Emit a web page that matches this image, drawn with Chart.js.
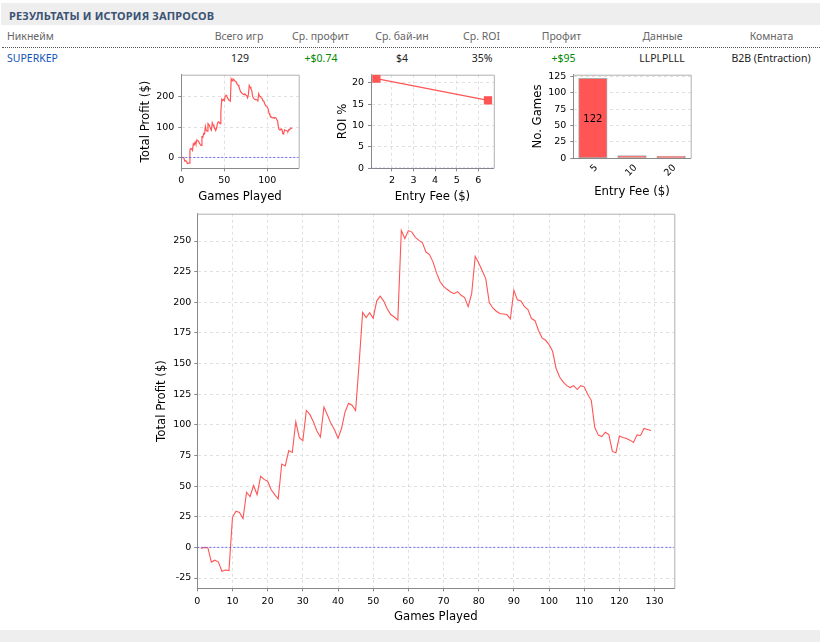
<!DOCTYPE html>
<html>
<head>
<meta charset="utf-8">
<script src="https://cdn.jsdelivr.net/npm/chart.js@4/dist/chart.umd.js"></script>
<style>
    html, body { margin: 0; padding: 0; background: #fff; }
    #page { position: relative; width: 820px; height: 642px; overflow: hidden; font-family: "Noto Sans", sans-serif; font-size: 10.5px; color: #222; }
    #title { position: absolute; left: 1px; top: 3px; width: 819px; height: 22px; background: #eee; }
    #title span { position: absolute; left: 8px; top: 5px; font-weight: bold; font-size: 11px; letter-spacing: 0.16px; color: #3b5374; white-space: nowrap; }
    #footer { position: absolute; left: 0; top: 630px; width: 820px; height: 12px; background: #eee; }
    #rule { position: absolute; left: 2px; top: 47px; width: 818px; border-top: 1px dotted #555; }
    .cell { position: absolute; white-space: nowrap; transform: translateX(-50%); }
    .head { top: 29px; color: #666; }
    .row { top: 51px; }
    .left { transform: none; }
    .green { color: #080; }
    .link { color: #1155bb; }
    canvas { position: absolute; }
</style>
</head>
<body>
<div id="page">
    <div id="title"><span>РЕЗУЛЬТАТЫ И ИСТОРИЯ ЗАПРОСОВ</span></div>
    <div id="rule"></div>
    <div id="footer"></div>
    <div id="table"></div>
    <canvas id="small_profit" width="175" height="140" style="left:130px;top:65px"></canvas>
    <canvas id="small_roi" width="170" height="140" style="left:330px;top:65px"></canvas>
    <canvas id="small_games" width="170" height="140" style="left:525px;top:65px"></canvas>
    <canvas id="main_profit" width="530" height="425" style="left:150px;top:205px"></canvas>
</div>
<script>
const tableHeads = ['Никнейм', 'Всего игр', 'Ср. профит', 'Ср. бай-ин', 'Ср. ROI', 'Профит', 'Данные', 'Комната'];
const tableRow = ['SUPERKEP', '129', '+$0.74', '$4', '35%', '+$95', 'LLPLPLLL', 'B2B (Entraction)'];
const headCenters = [0, 239, 320.5, 402, 481.5, 561.5, 662.5, 771.5];
const rowCenters = [0, 240, 321, 402, 482, 563.5, 662, 771];

// cumulative profit, games 1..129
const profit = [
    -1, 0, -0.3, -12, -10.5, -12, -19.5, -18.5, -19, 24.5,
    29.5, 28.5, 23.5, 45, 41.5, 50.5, 43, 58, 55.5, 54,
    47, 43, 39.5, 68, 66.5, 79, 77.5, 102.5, 89.5, 87,
    111.7, 108.5, 102.5, 95, 90, 114.5, 108, 101, 96, 89,
    97, 110.5, 117.5, 116, 111.7, 150, 191.8, 187.5, 191.5, 187,
    201, 205, 201, 194.5, 190, 188, 185.5, 258.7, 252, 258.5,
    257.3, 253, 250.5, 248.6, 241, 239, 233, 224, 217, 213,
    210.6, 208.4, 207, 208.7, 205.7, 203.8, 196.5, 207, 237.5, 232,
    225.8, 219.3, 199.7, 195.4, 192.7, 190.8, 190.5, 190, 186.4, 209.8,
    202, 201, 196.5, 194, 186.7, 185, 177, 171, 169, 165.5,
    160, 146, 139, 135, 132, 130.4, 132, 128.8, 132, 131,
    124.7, 120, 97.8, 91.6, 90.5, 94, 92, 78.3, 77.2, 90.8,
    89.7, 88.9, 87.5, 85.6, 91.8, 91.3, 97, 96.2, 95.4
];
const zeroLine = [0, 0];
const smallProfitTicks = [0, 100, 200];

const roiFees = [1.28, 6.45];
const roiValues = [21, 15.9];

const gameFees = ['5', '10', '20'];
const gameCounts = [122, 4, 3];

const RED = '#ff5555';
const BLUE = '#6a6af0';
const FONT = '"DejaVu Sans", sans-serif';
const TICK_SIZE = 9.5;

let table = document.getElementById('table');
tableHeads.forEach((text, i) => addCell(text, 'head', i, headCenters[i]));
tableRow.forEach((text, i) => addCell(text, 'row', i, rowCenters[i]));

function addCell(text, kind, i, center) {
    let cell = document.createElement('div');
    cell.className = 'cell ' + kind;
    cell.textContent = text;
    if (i === 0) {
        cell.classList.add('left');
        cell.style.left = '7px';
    } else {
        cell.style.left = center + 'px';
    }
    if (kind === 'row' && i === 0) cell.classList.add('link');
    if (kind === 'row' && (i === 2 || i === 5)) cell.classList.add('green');
    table.appendChild(cell);
}

// top and right edge of the plot, the axes only give left and bottom
const frame = {
    id: 'frame',
    beforeDatasetsDraw(chart) {
        const a = chart.chartArea;
        const c = chart.ctx;
        c.save();
        c.strokeStyle = '#b0b0b0';
        c.lineWidth = 1;
        c.beginPath();
        c.moveTo(a.left, a.top + 0.5);
        c.lineTo(a.right + 0.5, a.top + 0.5);
        c.lineTo(a.right + 0.5, a.bottom);
        c.stroke();
        c.restore();
    }
};

const barLabel = {
    id: 'barLabel',
    afterDatasetsDraw(chart) {
        const bar = chart.getDatasetMeta(0).data[0];
        const c = chart.ctx;
        c.save();
        c.font = '10px ' + FONT;
        c.fillStyle = '#000';
        c.textAlign = 'center';
        c.textBaseline = 'middle';
        c.fillText(gameCounts[0], bar.x, (bar.y + bar.base) / 2 + 1);
        c.restore();
    }
};

function tickOptions(step, padding, extra) {
    return Object.assign({
        color: '#000',
        font: { family: FONT, size: TICK_SIZE },
        stepSize: step,
        padding: padding,
        autoSkip: false,
        includeBounds: false
    }, extra);
}

function axis(title, side, size, titlePad, extra) {
    return Object.assign({
        type: 'linear',
        position: side,
        title: {
            display: true,
            text: title,
            color: '#000',
            font: { family: FONT, size: 11.7 },
            padding: side === 'left' ? { top: titlePad, bottom: 0 } : { top: 0, bottom: titlePad }
        },
        grid: { color: '#e0e0e0', tickColor: '#888', tickLength: 3, lineWidth: 1 },
        border: { color: '#888', dash: [3, 3] },
        afterFit(scale) {
            if (side === 'left') scale.width = size;
            else scale.height = size;
        }
    }, extra);
}

function baseOptions(padding, scales) {
    return {
        responsive: false,
        animation: false,
        layout: { padding: padding },
        plugins: { legend: { display: false }, tooltip: { enabled: false } },
        scales: scales
    };
}

function profitChart(id, padding, lineWidth, xAxis, yAxis) {
    return new Chart(document.getElementById(id), {
        type: 'line',
        data: {
            datasets: [
                {
                    data: zeroLine.map((v, i) => ({ x: i * xAxis.max, y: v })),
                    borderColor: BLUE,
                    borderWidth: 1,
                    borderDash: [2, 2],
                    pointRadius: 0
                },
                {
                    data: profit.map((v, i) => ({ x: i + 1, y: v })),
                    borderColor: RED,
                    borderWidth: lineWidth,
                    pointRadius: 0,
                    tension: 0
                }
            ]
        },
        options: baseOptions(padding, { x: xAxis, y: yAxis }),
        plugins: [frame]
    });
}

profitChart('main_profit', { top: 8.3, right: 5.7 }, 1.1,
    axis('Games Played', 'bottom', 41.7, 6, { min: 0, max: 135.6, ticks: tickOptions(10, 5) }),
    axis('Total Profit ($)', 'left', 47.3, 4.8, { min: -33.4, max: 272.3, ticks: tickOptions(25, 3) })
);

profitChart('small_profit', { top: 8.3, right: 6.3 }, 1.2,
    axis('Games Played', 'bottom', 36.7, 1, { min: 0, max: 136.5, ticks: tickOptions(50, 4) }),
    axis('Total Profit ($)', 'left', 51.3, 9, {
        min: -35.7,
        max: 272.7,
        ticks: tickOptions(100, 4),
        afterBuildTicks(scale) {
            scale.ticks = smallProfitTicks.map(value => ({ value: value }));
        }
    })
);

new Chart(document.getElementById('small_roi'), {
    type: 'line',
    data: {
        datasets: [
            {
                data: [{ x: 1.03, y: 0 }, { x: 6.72, y: 0 }],
                borderColor: BLUE,
                borderWidth: 1,
                borderDash: [2, 2],
                pointRadius: 0
            },
            {
                data: roiFees.map((fee, i) => ({ x: fee, y: roiValues[i] })),
                borderColor: RED,
                backgroundColor: RED,
                borderWidth: 1.2,
                pointStyle: 'rect',
                pointRadius: 5,
                tension: 0
            }
        ]
    },
    options: baseOptions({ top: 8.3, right: 5.7 }, {
        x: axis('Entry Fee ($)', 'bottom', 36.7, 1, { min: 1.03, max: 6.72, ticks: tickOptions(1, 4) }),
        y: axis('ROI %', 'left', 41, 6, { min: 0, max: 21.9, ticks: tickOptions(5, 4) })
    }),
    plugins: [frame]
});

new Chart(document.getElementById('small_games'), {
    type: 'bar',
    data: {
        labels: gameFees,
        datasets: [{
            data: gameCounts,
            backgroundColor: RED,
            borderColor: '#aaaaaa',
            borderWidth: 1,
            borderSkipped: false,
            inflateAmount: 0.5,
            categoryPercentage: 1,
            barPercentage: 0.72
        }]
    },
    options: baseOptions({ top: 8.3, right: 4.3 }, {
        x: axis('Entry Fee ($)', 'bottom', 46.7, 6, {
            type: 'category',
            grid: { display: false, tickColor: '#888', tickLength: 3 },
            ticks: { color: '#000', font: { family: FONT, size: TICK_SIZE }, minRotation: 45, maxRotation: 45, padding: 1, labelOffset: 3.5, autoSkip: false }
        }),
        y: axis('No. Games', 'left', 48.3, 6, { min: 0, max: 128, ticks: tickOptions(25, 4) })
    }),
    plugins: [frame, barLabel]
});
</script>
</body>
</html>
